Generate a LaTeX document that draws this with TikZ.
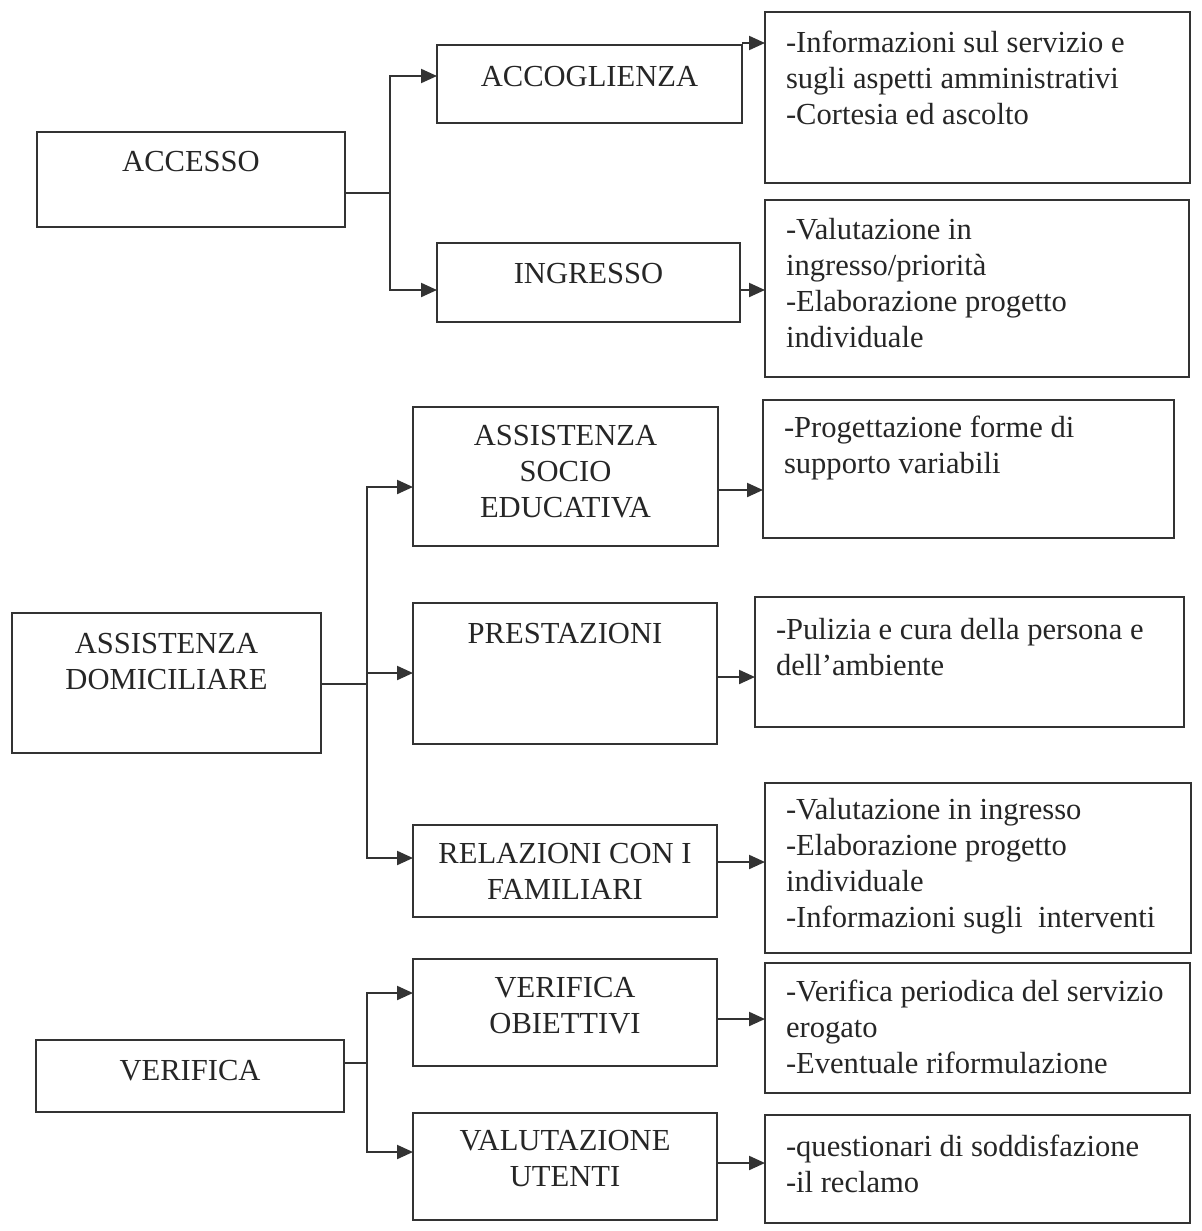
\documentclass[tikz,border=0pt]{standalone}
\usepackage{fontspec}
\setmainfont{Liberation Serif}
\usetikzlibrary{arrows.meta}
\newlength\pxu
\setlength\pxu{0.02cm}
% box contents: width, height, first baseline, text
\newcommand{\cbox}[4]{\parbox[t][#2\pxu][t]{#1\pxu}{\centering\rule{0pt}{#3\pxu}#4}}
\newcommand{\lbox}[4]{\parbox[t][#2\pxu][t]{#1\pxu}{\raggedright\leftskip=21\pxu\rule{0pt}{#3\pxu}#4}}
\tikzset{
  box/.style={draw=black!80,line width=1.2pt,anchor=north west,inner sep=0pt,outer sep=0pt,
    text=black!85,font=\fontsize{17.4}{20.5}\selectfont},
  ln/.style={line width=1.2pt,black!80},
  arr/.style={-{Triangle[length=3.2mm,width=2.8mm]},line width=1.2pt,black!80},
}
\begin{document}
\begin{tikzpicture}[x=0.02cm,y=-0.02cm]
  \useasboundingbox (0,0) rectangle (1202,1231);
  % accesso
  \node[box] (accesso) at (37,132) {\cbox{308}{95}{39}{ACCESSO}};
  \node[box] (accoglienza) at (437,45) {\cbox{305}{78}{41}{ACCOGLIENZA}};
  \node[box] (ingresso) at (437,243) {\cbox{303}{79}{40}{INGRESSO}};
  \node[box] (infoAcc) at (765,12) {\lbox{425}{171}{40}{-Informazioni sul servizio e\\sugli aspetti amministrativi\\-Cortesia ed ascolto}};
  \node[box] (infoIng) at (765,200) {\lbox{424}{177}{39}{-Valutazione in\\ingresso/priorità\\-Elaborazione progetto\\individuale}};
  % assistenza domiciliare
  \node[box] (domiciliare) at (12,613) {\cbox{309}{140}{40}{ASSISTENZA\\DOMICILIARE}};
  \node[box] (socio) at (413,407) {\cbox{305}{139}{38}{ASSISTENZA\\SOCIO\\EDUCATIVA}};
  \node[box] (prestazioni) at (413,603) {\cbox{304}{141}{40}{PRESTAZIONI}};
  \node[box] (relazioni) at (413,825) {\cbox{304}{92}{38}{RELAZIONI CON I\\FAMILIARI}};
  \node[box] (infoSocio) at (763,400) {\lbox{411}{138}{37}{-Progettazione forme di\\supporto variabili}};
  \node[box] (infoPrest) at (755,597) {\lbox{429}{130}{42}{-Pulizia e cura della persona e\\dell’ambiente}};
  \node[box] (infoRel) at (765,783) {\lbox{426}{170}{36}{-Valutazione in ingresso\\-Elaborazione progetto\\individuale\\-Informazioni sugli\ \ interventi}};
  % verifica
  \node[box] (verifica) at (36,1040) {\cbox{308}{72}{40}{VERIFICA}};
  \node[box] (obiettivi) at (413,959) {\cbox{304}{107}{38}{VERIFICA\\OBIETTIVI}};
  \node[box] (utenti) at (413,1113) {\cbox{304}{107}{37}{VALUTAZIONE\\UTENTI}};
  \node[box] (infoObj) at (765,963) {\lbox{425}{130}{38}{-Verifica periodica del servizio\\erogato\\-Eventuale riformulazione}};
  \node[box] (infoUt) at (765,1115) {\lbox{425}{108}{41}{-questionari di soddisfazione\\-il reclamo}};
  % branches
  \coordinate (ja) at (390,193);
  \coordinate (jb) at (367,684);
  \coordinate (jc) at (367,1063);
  \draw[ln] (accesso.east |- ja) -- (ja);
  \draw[ln] (domiciliare.east |- jb) -- (jb);
  \draw[ln] (verifica.east |- jc) -- (jc);
  \foreach \n/\y in {accoglienza/76, ingresso/290}
    \draw[arr] (ja) |- (\n.west |- 0,\y);
  \foreach \n/\y in {socio/487, prestazioni/673, relazioni/858}
    \draw[arr] (jb) |- (\n.west |- 0,\y);
  \foreach \n/\y in {obiettivi/993, utenti/1152}
    \draw[arr] (jc) |- (\n.west |- 0,\y);
  % to the descriptions
  \foreach \a/\b/\y in {accoglienza/infoAcc/43, ingresso/infoIng/290, socio/infoSocio/490,
      prestazioni/infoPrest/677, relazioni/infoRel/862, obiettivi/infoObj/1019, utenti/infoUt/1163}
    \draw[arr] (\a.east |- 0,\y) -- (\b.west |- 0,\y);
\end{tikzpicture}
\end{document}
